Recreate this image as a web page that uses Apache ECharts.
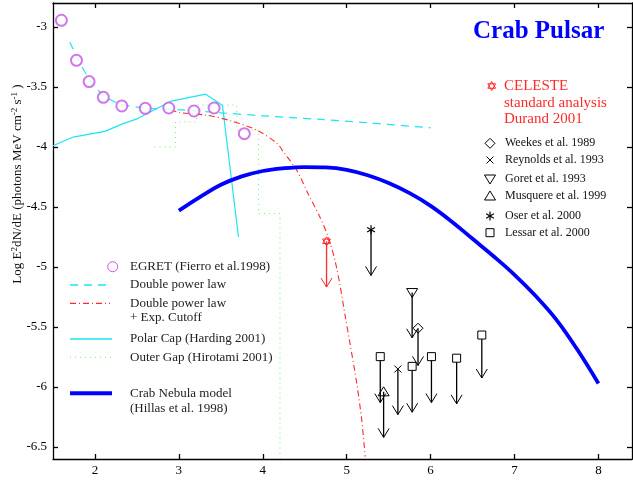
<!DOCTYPE html>
<html><head><meta charset="utf-8">
<script src="https://cdn.jsdelivr.net/npm/echarts@6/dist/echarts.min.js"></script>
<style>html,body{margin:0;padding:0;background:#fff}#c{width:633px;height:480px}</style>
</head><body><div id="c"></div>
<script>
// ---- data ----
const xTicks = [2, 3, 4, 5, 6, 7, 8];
const yTicks = [-6.5, -6, -5.5, -5, -4.5, -4, -3.5, -3];
const egret = [[1.60,-2.944],[1.78,-3.278],[1.93,-3.455],[2.10,-3.586],[2.32,-3.658],[2.60,-3.678],[2.88,-3.675],[3.18,-3.70],[3.42,-3.675],[3.78,-3.889]];
const doublePowerLaw = [[1.70,-3.125],[1.80,-3.27],[1.93,-3.43],[2.10,-3.57],[2.30,-3.64],[2.60,-3.675],[3.0,-3.69],[3.5,-3.715],[4.0,-3.74],[4.68,-3.77],[5.28,-3.80],[6.0,-3.84]];
const expCutoff = [[2.9,-3.69],[3.01,-3.713],[3.33,-3.735],[3.61,-3.78],[3.93,-3.86],[4.17,-3.97],[4.245,-4.04],[4.405,-4.194],[4.54,-4.389],[4.68,-4.583],[4.78,-4.75],[4.86,-4.944],[4.92,-5.15],[4.98,-5.40],[5.04,-5.64],[5.12,-5.97],[5.18,-6.28],[5.22,-6.58]];
const polarCap = [[1.5,-3.99],[1.74,-3.917],[2.12,-3.87],[2.335,-3.805],[2.51,-3.763],[2.91,-3.617],[3.32,-3.56],[3.52,-3.655],[3.71,-4.75]];
const outerGap = [[2.71,-4.0],[2.96,-4.0],[2.96,-3.79],[3.21,-3.79],[3.21,-3.65],[3.69,-3.65],[3.69,-3.86],[3.95,-3.86],[3.95,-4.555],[4.205,-4.555],[4.205,-6.6]];
const crabNebula = [[3.0,-4.53],[3.25,-4.417],[3.5,-4.315],[3.75,-4.245],[4.0,-4.2],[4.25,-4.177],[4.5,-4.167],[4.75,-4.17],[5.0,-4.19],[5.25,-4.235],[5.5,-4.30],[5.75,-4.385],[6.0,-4.49],[6.25,-4.62],[6.5,-4.765],[6.75,-4.91],[7.0,-5.065],[7.25,-5.24],[7.5,-5.44],[7.75,-5.69],[8.0,-5.97]];
// upper limits: [x, yTop, yArrowTip]
const celeste = [[4.76,-4.786,-5.167]];
const weekes = [[5.85,-5.51,-5.82]];
const reynolds = [[5.61,-5.85,-6.23]];
const goret = [[5.78,-5.213,-5.59]];
const musquere = [[5.44,-6.04,-6.42]];
const oser = [[5.29,-4.69,-5.07]];
const lessar = [[5.40,-5.747,-6.13],[5.78,-5.828,-6.21],[6.01,-5.747,-6.13],[6.31,-5.76,-6.14],[6.61,-5.567,-5.925]];

const SERIF = '"Liberation Serif","DejaVu Serif",serif';
const CYAN = '#1ee4f0', RED = '#ff2a2a', GREEN = '#77ee77', BLUE = '#0000ff', VIOLET = '#c455e6';

function markerShapes(kind, cx, cy, color) {
  const st = {stroke: color, fill: 'none', lineWidth: 1};
  const s = 5;
  switch (kind) {
    case 'diamond': return [{type:'polygon', shape:{points:[[cx,cy-s],[cx+s,cy],[cx,cy+s],[cx-s,cy]]}, style:st}];
    case 'cross': return [{type:'line', shape:{x1:cx-3.5,y1:cy-3.5,x2:cx+3.5,y2:cy+3.5}, style:st},{type:'line', shape:{x1:cx-3.5,y1:cy+3.5,x2:cx+3.5,y2:cy-3.5}, style:st}];
    case 'down': return [{type:'polygon', shape:{points:[[cx-5.5,cy-4],[cx+5.5,cy-4],[cx,cy+5]]}, style:st}];
    case 'up': return [{type:'polygon', shape:{points:[[cx-5.5,cy+4],[cx+5.5,cy+4],[cx,cy-5]]}, style:st}];
    case 'asterisk': {
      const r = 4.5, out = [];
      for (let k = 0; k < 3; k++) { const a = Math.PI/2 + k*Math.PI/3; out.push({type:'line', shape:{x1:cx-r*Math.cos(a),y1:cy-r*Math.sin(a),x2:cx+r*Math.cos(a),y2:cy+r*Math.sin(a)}, style:{stroke:color,lineWidth:1.2}}); }
      return out;
    }
    case 'square': return [{type:'rect', shape:{x:cx-4,y:cy-4,width:8,height:8}, style:Object.assign({}, st, {fill:'#fff'})}];
    case 'star': {
      const r = 4.5, t1 = [], t2 = [];
      for (let k = 0; k < 3; k++) { const a = -Math.PI/2 + k*2*Math.PI/3; t1.push([cx+r*Math.cos(a), cy+r*Math.sin(a)]); t2.push([cx-r*Math.cos(a), cy-r*Math.sin(a)]); }
      return [{type:'polygon', shape:{points:t1}, style:st},{type:'polygon', shape:{points:t2}, style:st}];
    }
  }
  return [];
}

function upperLimit(name, data, kind, color) {
  return {
    name, type: 'custom', data, z: 5,
    renderItem: function (params, api) {
      const p1 = api.coord([api.value(0), api.value(1)]);
      const p2 = api.coord([api.value(0), api.value(2)]);
      const children = [
        {type:'line', shape:{x1:p1[0],y1:p1[1],x2:p2[0],y2:p2[1]}, style:{stroke:color, lineWidth:1.3}},
        {type:'polyline', shape:{points:[[p2[0]-5.5,p2[1]-9],[p2[0],p2[1]],[p2[0]+5.5,p2[1]-9]]}, style:{stroke:color, lineWidth:1, fill:'none'}}
      ].concat(markerShapes(kind, p1[0], p1[1], color));
      return {type:'group', children};
    }
  };
}

function lineSeries(name, data, style, smooth) {
  return {name, type:'line', data, symbol:'none', showSymbol:false, smooth: smooth || false, lineStyle: style, clip: true, silent: true};
}

const chart = echarts.init(document.getElementById('c'), null, {renderer:'canvas'});

const axisCommon = {
  type: 'value', splitLine: {show:false},
  axisLine: {show:true, onZero:false, lineStyle:{color:'#000', width:1.3}},
  axisTick: {show:true, inside:true, length:5, lineStyle:{color:'#000', width:1.3}},
};

const legendLeft = [
  {type:'circle', shape:{cx:112.7, cy:266.7, r:5}, style:{stroke:VIOLET, fill:'none', lineWidth:1}},
  {type:'line', shape:{x1:70,y1:285,x2:110,y2:285}, style:{stroke:CYAN, lineWidth:1.3, lineDash:[8,6]}},
  {type:'line', shape:{x1:70,y1:303.3,x2:110,y2:303.3}, style:{stroke:RED, lineWidth:1.3, lineDash:[6,3,1,3]}},
  {type:'line', shape:{x1:70,y1:339,x2:112,y2:339}, style:{stroke:CYAN, lineWidth:1.3}},
  {type:'line', shape:{x1:70,y1:357.3,x2:112,y2:357.3}, style:{stroke:GREEN, lineWidth:1, lineDash:[1,4]}},
  {type:'line', shape:{x1:70,y1:393.3,x2:112,y2:393.3}, style:{stroke:BLUE, lineWidth:4}}
];
const leftTexts = [
  ['EGRET (Fierro et al.1998)', 266.7], ['Double power law', 285], ['Double power law', 303.3],
  ['+ Exp. Cutoff', 317.3], ['Polar Cap (Harding 2001)', 339], ['Outer Gap (Hirotami 2001)', 357.3],
  ['Crab Nebula model', 393.3], ['(Hillas et al. 1998)', 409]
].map(([t, y]) => ({type:'text', x:130, y, style:{text:t, font:'13px ' + SERIF, fill:'#222', textVerticalAlign:'middle'}}));

const rightEntries = [['diamond','Weekes et al. 1989',143.3],['cross','Reynolds et al. 1993',160],['down','Goret et al. 1993',179],['up','Musquere et al. 1999',196],['asterisk','Oser et al. 2000',216],['square','Lessar et al. 2000',232.7]];
const rightLegend = [];
rightEntries.forEach(([k, t, y]) => {
  markerShapes(k, 490, y, '#000').forEach(s => rightLegend.push(s));
  rightLegend.push({type:'text', x:505, y, style:{text:t, font:'12px ' + SERIF, fill:'#111', textVerticalAlign:'middle'}});
});

const celesteLegend = markerShapes('star', 491.7, 86, RED).concat([
  {type:'text', x:504, y:86, style:{text:'CELESTE', font:'15px ' + SERIF, fill:RED, textVerticalAlign:'middle'}},
  {type:'text', x:504, y:103.3, style:{text:'standard analysis', font:'15px ' + SERIF, fill:RED, textVerticalAlign:'middle'}},
  {type:'text', x:504, y:119.3, style:{text:'Durand 2001', font:'15px ' + SERIF, fill:RED, textVerticalAlign:'middle'}}
]);

chart.setOption({
  backgroundColor: '#fff',
  animation: false,
  grid: {left:53, right:1, top:3, bottom:21, containLabel:false},
  xAxis: [
    Object.assign({}, axisCommon, {position:'bottom', min:1.5, max:8.4,
      axisTick: Object.assign({}, axisCommon.axisTick, {customValues: xTicks}),
      axisLabel: {show:true, customValues: xTicks, margin:5, color:'#000', fontFamily:SERIF, fontSize:13}}),
    Object.assign({}, axisCommon, {position:'top', min:1.5, max:8.4,
      axisTick: Object.assign({}, axisCommon.axisTick, {customValues: xTicks}),
      axisLabel: {show:false}})
  ],
  yAxis: [
    Object.assign({}, axisCommon, {position:'left', min:-6.6, max:-2.8,
      axisTick: Object.assign({}, axisCommon.axisTick, {customValues: yTicks}),
      axisLabel: {show:true, customValues: yTicks, margin:6, color:'#000', fontFamily:SERIF, fontSize:13,
        formatter: v => String(Math.round(v*10)/10)}}),
    Object.assign({}, axisCommon, {position:'right', min:-6.6, max:-2.8,
      axisTick: Object.assign({}, axisCommon.axisTick, {customValues: yTicks}),
      axisLabel: {show:false}})
  ],
  series: [
    lineSeries('Outer Gap', outerGap, {color:GREEN, width:1, type:[1,4]}),
    lineSeries('Polar Cap', polarCap, {color:CYAN, width:1.2}),
    lineSeries('Double power law + Exp. Cutoff', expCutoff, {color:RED, width:1.1, type:[6,3,1,3]}, 0.3),
    lineSeries('Double power law', doublePowerLaw, {color:CYAN, width:1.2, type:[8,6]}, 0.3),
    lineSeries('Crab Nebula model', crabNebula, {color:BLUE, width:3.8}, 0.4),
    {name:'EGRET', type:'scatter', data: egret, symbol:'emptyCircle', symbolSize:11,
      itemStyle:{color:VIOLET, borderColor:VIOLET, borderWidth:1}, z:4},
    upperLimit('CELESTE', celeste, 'star', RED),
    upperLimit('Weekes', weekes, 'diamond', '#000'),
    upperLimit('Reynolds', reynolds, 'cross', '#000'),
    upperLimit('Goret', goret, 'down', '#000'),
    upperLimit('Musquere', musquere, 'up', '#000'),
    upperLimit('Oser', oser, 'asterisk', '#000'),
    upperLimit('Lessar', lessar, 'square', '#000')
  ],
  graphic: [
    {type:'text', x:473, y:32, style:{text:'Crab Pulsar', font:'bold 25px ' + SERIF, fill:BLUE, textVerticalAlign:'middle'}},
    {type:'text', x:18, y:184, rotation:Math.PI/2, style:{
      text:'Log E{sup|2}dN/dE (photons MeV cm{sup|-2} s{sup|-1} )',
      font:'13px ' + SERIF, fill:'#111', align:'center', verticalAlign:'middle',
      rich:{sup:{fontSize:9, fontFamily:SERIF, verticalAlign:'top', lineHeight:16, fill:'#111'}}
    }}
  ].concat(legendLeft, leftTexts, rightLegend, celesteLegend)
});
</script></body></html>
